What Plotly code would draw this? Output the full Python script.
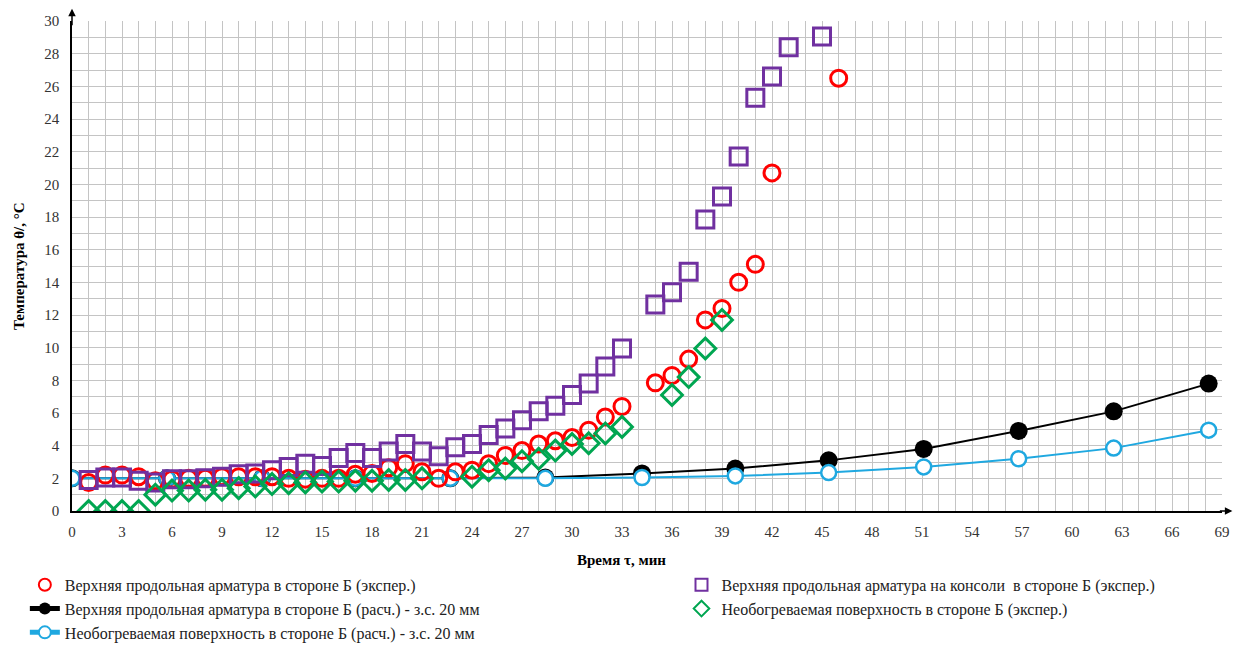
import plotly.graph_objects as go

# ---- data ----
red_x = list(range(1, 34)) + [35, 36, 37, 38, 39, 40, 41, 42, 46]
red_y = [1.75, 2.2, 2.2, 2.1, 1.85, 1.95, 2.0, 2.0, 2.1, 2.1, 2.1, 2.1, 2.0, 1.95, 2.0,
         2.0, 2.25, 2.3, 2.65, 2.9, 2.4, 2.0, 2.4, 2.5, 2.9, 3.4, 3.7, 4.1, 4.3, 4.5,
         4.95, 5.75, 6.4,
         7.85, 8.3, 9.3, 11.7, 12.4, 14.0, 15.1, 20.7, 26.5]

purple_x = list(range(1, 34)) + [35, 36, 37, 38, 39, 40, 41, 42, 43, 45]
purple_y = [1.9, 2.05, 2.05, 1.85, 1.75, 1.95, 1.95, 2.0, 2.1, 2.25, 2.3, 2.5, 2.7, 2.9, 2.75,
            3.25, 3.55, 3.25, 3.65, 4.1, 3.65, 3.35, 3.9, 4.1, 4.65, 5.05, 5.55, 6.1, 6.45,
            7.1, 7.8, 8.85, 9.95,
            12.65, 13.4, 14.65, 17.85, 19.25, 21.7, 25.3, 26.6, 28.4, 29.05]

green_x = list(range(1, 22)) + list(range(24, 34)) + [36, 37, 38, 39]
green_y = [0.0, 0.0, 0.0, 0.0, 1.0, 1.25, 1.25, 1.3, 1.3, 1.4, 1.5, 1.65, 1.7, 1.75, 1.8,
           1.8, 1.85, 1.85, 1.9, 1.9, 2.0,
           2.1, 2.5, 2.6, 3.05, 3.2, 3.7, 4.1, 4.15, 4.75, 5.15,
           7.1, 8.2, 9.95, 11.7]

calc_x = [0, 5.7, 11.4, 17.0, 22.7, 28.4, 34.2, 39.8, 45.4, 51.1, 56.8, 62.5, 68.2]
black_y = [2.0, 2.0, 2.0, 2.0, 2.0, 2.05, 2.3, 2.6, 3.1, 3.8, 4.9, 6.1, 7.8]
cyan_y = [2.0, 2.0, 2.0, 2.0, 2.0, 2.0, 2.05, 2.15, 2.35, 2.7, 3.2, 3.85, 4.95]

x_ticks = list(range(0, 70, 3))
y_ticks = list(range(0, 31, 2))

names = [
    "Верхняя продольная арматура в стороне Б (экспер.)",
    "Верхняя продольная арматура в стороне Б (расч.) - з.с. 20 мм",
    "Необогреваемая поверхность в стороне Б (расч.) - з.с. 20 мм",
    "Верхняя продольная арматура на консоли  в стороне Б (экспер.)",
    "Необогреваемая поверхность в стороне Б (экспер.)",
]

RED = "#ff0000"
PURPLE = "#7030a0"
GREEN = "#00a651"
CYAN = "#1fa8e0"
FONT = "'Liberation Serif', 'Times New Roman', serif"

fig = go.Figure()

fig.add_trace(go.Scatter(x=calc_x, y=black_y, mode="lines+markers", name=names[1],
                         line=dict(color="black", width=2),
                         marker=dict(symbol="circle", size=18, color="black"),
                         legend="legend", legendrank=2))
fig.add_trace(go.Scatter(x=calc_x, y=cyan_y, mode="lines+markers", name=names[2],
                         line=dict(color=CYAN, width=2),
                         marker=dict(symbol="circle", size=15, color="white",
                                     line=dict(color=CYAN, width=2.5)),
                         legend="legend", legendrank=3))
fig.add_trace(go.Scatter(x=red_x, y=red_y, mode="markers", name=names[0],
                         marker=dict(symbol="circle-open", size=16, color=RED,
                                     line=dict(color=RED, width=3)),
                         legend="legend", legendrank=1))
fig.add_trace(go.Scatter(x=purple_x, y=purple_y, mode="markers", name=names[3],
                         marker=dict(symbol="square-open", size=17, color=PURPLE,
                                     line=dict(color=PURPLE, width=3)),
                         legend="legend2", legendrank=1))
fig.add_trace(go.Scatter(x=green_x, y=green_y, mode="markers", name=names[4],
                         marker=dict(symbol="diamond-open", size=16, color=GREEN,
                                     line=dict(color=GREEN, width=3)),
                         legend="legend2", legendrank=2))

grid_col = "#c4c4c4"
fig.update_xaxes(range=[0, 69], tickvals=x_ticks, showgrid=True, gridcolor=grid_col,
                 gridwidth=1, minor=dict(dtick=1, showgrid=True, gridcolor=grid_col, gridwidth=1),
                 showline=True, linecolor="black", linewidth=1.5, zeroline=False,
                 tickfont=dict(family=FONT, size=15, color="#333333"), ticks="",
                 ticklabelstandoff=6, automargin=False)
fig.update_yaxes(range=[0, 30], tickvals=y_ticks, showgrid=True, gridcolor=grid_col,
                 gridwidth=1, minor=dict(dtick=1, showgrid=True, gridcolor=grid_col, gridwidth=1),
                 showline=True, linecolor="black", linewidth=1.5, zeroline=False,
                 tickfont=dict(family=FONT, size=15, color="#333333"), ticks="",
                 ticklabelstandoff=8, automargin=False)

legend_common = dict(orientation="v", yanchor="top", xanchor="left",
                     font=dict(family=FONT, size=16, color="#222222"),
                     bgcolor="rgba(0,0,0,0)", itemwidth=30, tracegroupgap=0,
                     itemsizing="constant")

fig.update_layout(
    width=1234, height=653,
    margin=dict(l=72, r=12, t=21, b=142, autoexpand=False),
    plot_bgcolor="white", paper_bgcolor="white",
    legend=dict(x=-0.041, y=-0.116, **legend_common),
    legend2=dict(x=0.530, y=-0.116, **legend_common),
    annotations=[
        dict(text="<b>Время τ, мин</b>", xref="paper", yref="paper", x=0.478, y=-0.1,
             showarrow=False, font=dict(family=FONT, size=15, color="black"),
             xanchor="center", yanchor="middle"),
        dict(text="<b>Температура θ/, °С</b>", xref="paper", yref="paper", x=-0.046, y=0.5,
             showarrow=False, textangle=-90, font=dict(family=FONT, size=15, color="black"),
             xanchor="center", yanchor="middle"),
        dict(text="", xref="paper", yref="paper", x=0, y=1.025, ax=0, ay=18,
             showarrow=True, arrowhead=2, arrowsize=1, arrowwidth=1.5, arrowcolor="black"),
        dict(text="", xref="paper", yref="paper", x=1.009, y=0, ax=-14, ay=0,
             showarrow=True, arrowhead=2, arrowsize=1, arrowwidth=1.5, arrowcolor="black"),
    ],
)

fig.write_html("out.html")
